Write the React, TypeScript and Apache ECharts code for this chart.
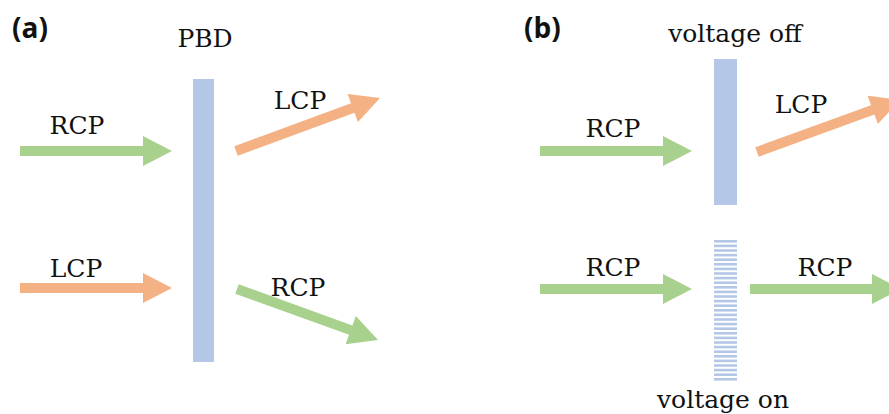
import React, { useEffect, useRef } from "react";
import * as echarts from "echarts";

const W = 889;
const H = 414;

// Arrows: polarisation kind, start point and tip (in picture units)
const arrowKinds = ["RCP", "LCP", "LCP", "RCP", "RCP", "RCP", "LCP", "RCP"];
const arrowStartX = [20, 20, 236, 237, 540, 540, 757, 750];
const arrowStartY = [151, 288, 151, 289, 151, 289, 152, 289];
const arrowEndX = [172, 172, 380, 378, 692, 692, 900, 901];
const arrowEndY = [151, 288, 98, 340, 151, 289, 100, 289];

// Plates (PBD element, voltage off, voltage on)
const plateNames = ["PBD", "voltage off", "voltage on"];
const plateLeft = [193, 714, 714];
const plateRight = [214, 737, 737];
const plateTop = [79, 59, 240];
const plateBottom = [362, 205, 385];
const plateStriped = [0, 0, 1];

// Text labels
const labelTexts = ["PBD", "voltage off", "voltage on", "RCP", "LCP", "LCP", "RCP", "RCP", "LCP", "RCP", "RCP"];
const labelX = [205, 735, 723, 77, 300, 76, 298, 613, 801, 613, 825];
const labelY = [38, 33, 399, 125, 100, 268, 287, 128, 104, 267, 267];

// Panel tags
const tagTexts = ["(a)", "(b)"];
const tagX = [12, 524];
const tagY = [27, 27];

const COLORS: Record<string, string> = { RCP: "#a9d18e", LCP: "#f4b183" };
const PLATE = "#b4c7e7";

export default function App() {
  const ref = useRef<HTMLDivElement>(null);
  useEffect(() => {
    if (!ref.current) return;
    const chart = echarts.init(ref.current, null, { renderer: "svg" });

    const arrowData = arrowKinds.map((k, i) => [arrowStartX[i], arrowStartY[i], arrowEndX[i], arrowEndY[i], i]);
    const plateData = plateNames.map((_, i) => [plateLeft[i], plateTop[i], plateRight[i], plateBottom[i], plateStriped[i]]);
    const labelData = labelTexts.map((_, i) => [labelX[i], labelY[i], i]);
    const tagData = tagTexts.map((_, i) => [tagX[i], tagY[i], i]);

    chart.setOption({
      animation: false,
      backgroundColor: "#ffffff",
      grid: { left: 0, right: 0, top: 0, bottom: 0 },
      xAxis: { type: "value", min: 0, max: W, show: false },
      yAxis: { type: "value", min: 0, max: H, inverse: true, show: false },
      series: [
        {
          type: "custom",
          name: "plates",
          silent: true,
          clip: false,
          data: plateData,
          renderItem: (params: any, api: any) => {
            const a = api.coord([api.value(0), api.value(1)]);
            const b = api.coord([api.value(2), api.value(3)]);
            const x = a[0], y = a[1], w = b[0] - a[0], h = b[1] - a[1];
            if (!api.value(4)) {
              return { type: "rect", shape: { x, y, width: w, height: h }, style: { fill: PLATE } };
            }
            const period = 4.6;
            const n = Math.floor(h / period);
            const children = [] as any[];
            for (let k = 0; k < n; k++) {
              children.push({
                type: "rect",
                shape: { x, y: y + k * period, width: w, height: 2.6 },
                style: { fill: PLATE },
              });
            }
            return { type: "group", children };
          },
        },
        {
          type: "custom",
          name: "arrows",
          silent: true,
          clip: false,
          data: arrowData,
          renderItem: (params: any, api: any) => {
            const p0 = api.coord([api.value(0), api.value(1)]);
            const p1 = api.coord([api.value(2), api.value(3)]);
            const dx = p1[0] - p0[0], dy = p1[1] - p0[1];
            const L = Math.sqrt(dx * dx + dy * dy);
            const ux = dx / L, uy = dy / L;
            const nx = -uy, ny = ux;
            const sw = 5, hw = 15, hl = 29;
            const bx = p1[0] - ux * hl, by = p1[1] - uy * hl;
            const pts = [
              [p0[0] + nx * sw, p0[1] + ny * sw],
              [bx + nx * sw, by + ny * sw],
              [bx + nx * hw, by + ny * hw],
              [p1[0], p1[1]],
              [bx - nx * hw, by - ny * hw],
              [bx - nx * sw, by - ny * sw],
              [p0[0] - nx * sw, p0[1] - ny * sw],
            ];
            const kind = arrowKinds[api.value(4)];
            return { type: "polygon", shape: { points: pts }, style: { fill: COLORS[kind] } };
          },
        },
        {
          type: "custom",
          name: "labels",
          silent: true,
          clip: false,
          data: labelData,
          renderItem: (params: any, api: any) => {
            const p = api.coord([api.value(0), api.value(1)]);
            return {
              type: "text",
              x: p[0],
              y: p[1],
              style: {
                text: labelTexts[api.value(2)],
                fontFamily: "DejaVu Serif",
                fontSize: 25,
                fill: "#111111",
                align: "center",
                verticalAlign: "middle",
              },
            };
          },
        },
        {
          type: "custom",
          name: "tags",
          silent: true,
          clip: false,
          data: tagData,
          renderItem: (params: any, api: any) => {
            const p = api.coord([api.value(0), api.value(1)]);
            return {
              type: "text",
              x: p[0],
              y: p[1],
              style: {
                text: tagTexts[api.value(2)],
                fontFamily: "Open Sans",
                fontWeight: "bold",
                fontSize: 28,
                fill: "#111111",
                align: "left",
                verticalAlign: "middle",
              },
            };
          },
        },
      ],
    });
    return () => chart.dispose();
  }, []);
  return <div ref={ref} style={{ position: "absolute", left: 0, top: 0, width: W, height: H }} />;
}
